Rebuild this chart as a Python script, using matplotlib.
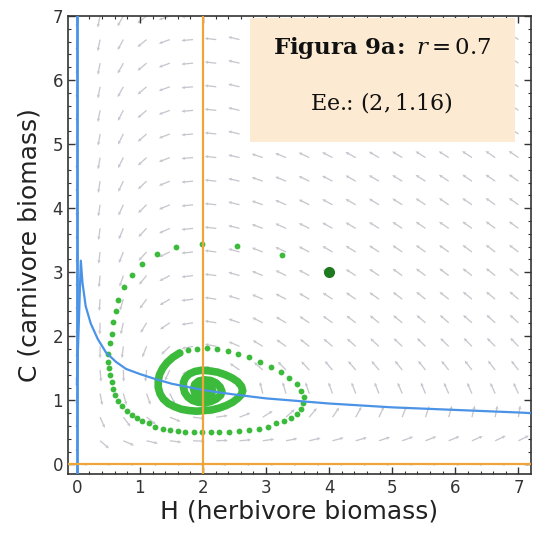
import numpy as np
import matplotlib.pyplot as plt
from matplotlib.patches import Rectangle

plt.rcParams['mathtext.fontset'] = 'dejavuserif'

# direction field: 20 x 20 grid on [0, 7], angles in degrees (rows = C, bottom to top)
grid_vals = np.linspace(0, 7, 20)
arrow_angle = [
    [0, 0, 0, 0, 0, 0, 0, 0, 0, 0, 0, 0, 0, 0, 0, 0, 0, 0, 0, 0],
    [270, 320, 337, 347, 353, 358, 2, 5, 8, 11, 13, 15, 16, 18, 20, 21, 22, 23, 25, 26],
    [270, 294, 308, 323, 338, 353, 8, 21, 32, 42, 50, 55, 61, 65, 69, 71, 74, 76, 79, 81],
    [270, 281, 286, 290, 297, 316, 77, 99, 104, 107, 109, 110, 111, 112, 113, 113, 114, 114, 115, 115],
    [270, 275, 272, 264, 245, 200, 162, 146, 139, 135, 133, 131, 131, 130, 129, 129, 129, 128, 128, 128],
    [270, 270, 263, 248, 223, 191, 169, 157, 149, 145, 142, 140, 139, 138, 137, 136, 136, 135, 135, 134],
    [270, 268, 257, 239, 214, 189, 171, 161, 154, 150, 147, 145, 143, 142, 141, 140, 139, 139, 138, 138],
    [270, 266, 253, 234, 210, 187, 172, 163, 157, 153, 150, 147, 146, 145, 143, 142, 142, 141, 141, 140],
    [270, 264, 251, 230, 207, 187, 173, 164, 158, 154, 152, 149, 148, 146, 145, 144, 143, 143, 142, 142],
    [270, 263, 248, 227, 205, 186, 173, 165, 159, 156, 153, 150, 149, 147, 146, 145, 145, 144, 143, 143],
    [270, 262, 247, 226, 204, 186, 174, 166, 160, 156, 154, 151, 150, 148, 147, 146, 146, 145, 144, 144],
    [270, 261, 245, 224, 203, 186, 174, 166, 161, 157, 154, 152, 151, 149, 148, 147, 146, 146, 145, 145],
    [270, 261, 244, 223, 202, 185, 174, 167, 161, 158, 155, 153, 151, 150, 149, 148, 147, 146, 146, 145],
    [270, 260, 243, 222, 201, 185, 174, 167, 162, 158, 155, 153, 152, 150, 149, 148, 148, 147, 146, 146],
    [270, 260, 243, 221, 201, 185, 174, 167, 162, 158, 156, 154, 152, 151, 149, 148, 148, 147, 146, 146],
    [270, 259, 242, 220, 200, 185, 174, 167, 162, 158, 156, 154, 152, 151, 150, 149, 148, 147, 147, 146],
    [270, 259, 241, 220, 200, 185, 174, 167, 162, 159, 156, 154, 152, 151, 150, 149, 148, 148, 147, 147],
    [270, 259, 241, 219, 200, 185, 174, 167, 162, 159, 157, 154, 153, 151, 150, 149, 148, 148, 147, 147],
    [270, 258, 241, 219, 200, 185, 174, 167, 162, 159, 157, 155, 153, 151, 150, 149, 149, 148, 147, 147],
    [270, 258, 240, 218, 199, 185, 174, 167, 162, 159, 157, 155, 153, 152, 150, 149, 149, 148, 148, 147],
]

# herbivore nullcline (dH/dt = 0)
null_H = [0.0, 0.063, 0.09, 0.14, 0.22, 0.33, 0.46, 0.62, 0.78, 1.0, 1.25, 1.5, 1.75,
          2.0, 2.5, 3.0, 3.5, 4.0, 4.5, 5.0, 5.5, 6.0, 6.5, 7.0, 7.2]
null_C = [1.25, 3.18, 2.83, 2.47, 2.20, 1.96, 1.75, 1.60, 1.49, 1.41, 1.33, 1.26, 1.21,
          1.16, 1.09, 1.03, 0.99, 0.95, 0.92, 0.89, 0.87, 0.85, 0.83, 0.81, 0.80]

# trajectory from (4, 3): sparse outer part
orbit_H = [3.25, 2.54, 1.99, 1.57, 1.27, 1.04, 0.88, 0.74, 0.66, 0.62, 0.58, 0.55, 0.52,
           0.50, 0.50, 0.51, 0.53, 0.55, 0.57, 0.61, 0.66, 0.72, 0.79, 0.87, 0.95, 1.04,
           1.14, 1.24, 1.36, 1.48, 1.60, 1.72, 1.85, 1.98, 2.12, 2.26, 2.41, 2.57, 2.73,
           2.88, 3.03, 3.16, 3.29, 3.40, 3.49, 3.56, 3.59, 3.60, 3.56, 3.49, 3.37, 3.23,
           3.07, 2.90, 2.73, 2.56, 2.40, 2.22, 2.06, 1.90, 1.77, 1.63]
orbit_C = [3.27, 3.41, 3.44, 3.39, 3.28, 3.13, 2.95, 2.77, 2.57, 2.39, 2.22, 2.04, 1.89,
           1.73, 1.60, 1.50, 1.39, 1.28, 1.17, 1.08, 0.99, 0.91, 0.83, 0.77, 0.72, 0.68,
           0.64, 0.59, 0.56, 0.53, 0.52, 0.51, 0.50, 0.50, 0.50, 0.50, 0.51, 0.52, 0.54,
           0.56, 0.59, 0.64, 0.68, 0.73, 0.79, 0.87, 0.96, 1.05, 1.15, 1.25, 1.35, 1.44,
           1.52, 1.60, 1.67, 1.72, 1.77, 1.80, 1.81, 1.80, 1.78, 1.74]

# trajectory: dense loops closing in on the equilibrium
inner_H = [1.63, 1.52, 1.43, 1.36, 1.31, 1.29, 1.29, 1.32, 1.37, 1.45, 1.55, 1.66, 1.78,
           1.90, 2.02, 2.14, 2.26, 2.37, 2.47, 2.55, 2.61, 2.63, 2.61, 2.55, 2.46, 2.35,
           2.23, 2.10, 1.98, 1.87, 1.78, 1.72, 1.69, 1.69, 1.71, 1.76, 1.83, 1.92, 2.02,
           2.12, 2.21, 2.28, 2.30, 2.27, 2.21, 2.12, 2.02, 1.93, 1.87, 1.85, 1.87, 1.93,
           2.01, 2.09, 2.14, 2.15, 2.11, 2.04, 1.97, 1.94, 1.97, 2.03, 2.07, 2.04, 2.00]
inner_C = [1.74, 1.67, 1.59, 1.50, 1.40, 1.30, 1.20, 1.10, 1.02, 0.95, 0.90, 0.86, 0.84,
           0.83, 0.84, 0.85, 0.88, 0.92, 0.97, 1.03, 1.09, 1.15, 1.22, 1.29, 1.35, 1.40,
           1.44, 1.46, 1.47, 1.45, 1.41, 1.35, 1.28, 1.20, 1.12, 1.05, 1.00, 0.97, 0.96,
           0.98, 1.02, 1.08, 1.14, 1.21, 1.27, 1.31, 1.32, 1.30, 1.25, 1.18, 1.11, 1.06,
           1.04, 1.06, 1.11, 1.16, 1.21, 1.23, 1.21, 1.16, 1.11, 1.10, 1.14, 1.18, 1.16]

start_H, start_C = 4.0, 3.0
eq_H, eq_C = 2.0, 1.16
r_value = 0.7

fig = plt.figure(figsize=(5.33, 5.36), dpi=100)
ax = fig.add_axes([0.1276, 0.1157, 0.8687, 0.8545])

HH, CC = np.meshgrid(grid_vals, grid_vals)
ang = np.radians(np.array(arrow_angle, dtype=float))
ax.quiver(HH, CC, np.cos(ang), np.sin(ang), angles='xy', scale_units='xy', scale=5.4,
          color='#c6c6ce', width=0.0028, headwidth=2.6, headlength=2.8,
          headaxislength=2.5, zorder=1)

green = '#3cba3c'
ax.plot(orbit_H, orbit_C, 'o', color=green, ms=4.2, mec='none', zorder=3)
ax.plot(inner_H, inner_C, '-', color=green, lw=5.5, zorder=3, solid_capstyle='round',
        solid_joinstyle='round')
ax.plot(start_H, start_C, 'o', color='#1f7a1f', ms=8, mec='none', zorder=4)

ax.axvline(0, color='#4a93e6', lw=2, zorder=5)
ax.plot(null_H, null_C, color='#4a93e6', lw=1.6, zorder=5)
ax.axvline(eq_H, color='#f0a53a', lw=1.6, zorder=5)
ax.axhline(0, color='#f0a53a', lw=1.6, zorder=5)

ax.add_patch(Rectangle((0.393, 0.725), 0.572, 0.271, transform=ax.transAxes,
                       facecolor='#fcebd2', edgecolor='none', zorder=6))
ax.text(0.678, 0.930, r'$\mathbf{Figura\ 9a\!:}\ r = %.1f$' % r_value,
        transform=ax.transAxes, ha='center', va='center', fontsize=16.5, color='#111111', zorder=7)
ax.text(0.678, 0.812, r'Ee.: $(%d, %.2f)$' % (eq_H, eq_C), family='DejaVu Serif',
        transform=ax.transAxes, ha='center', va='center', fontsize=16, color='#111111', zorder=7)

ax.set_xlim(-0.14, 7.2)
ax.set_ylim(-0.15, 7.0)
ax.set_xticks(range(8))
ax.set_yticks(range(8))
ax.set_xticks(np.arange(0, 7.01, 0.2), minor=True)
ax.set_yticks(np.arange(0, 7.01, 0.2), minor=True)
ax.tick_params(which='both', direction='in', top=True, right=True, colors='#333333',
               labelsize=12)
ax.tick_params(which='major', length=5, width=1)
ax.tick_params(which='minor', length=2.5, width=0.8)
for s in ax.spines.values():
    s.set_color('#333333')
    s.set_linewidth(1.2)

ax.set_xlabel('H (herbivore biomass)', fontsize=18, color='#222222', labelpad=2)
ax.set_ylabel('C (carnivore biomass)', fontsize=18, color='#222222', labelpad=8)

fig.savefig('out.png', dpi=100)
